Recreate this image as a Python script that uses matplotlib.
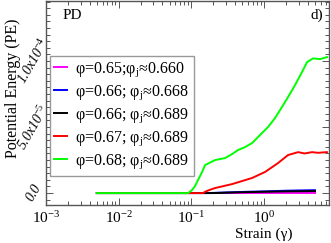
import numpy as np
import matplotlib
matplotlib.use("Agg")
import matplotlib.pyplot as plt
from matplotlib.ticker import LogLocator, MultipleLocator, NullFormatter

plt.rcParams['font.family'] = ['Liberation Serif', 'DejaVu Serif']
plt.rcParams['mathtext.fontset'] = 'custom'
plt.rcParams['mathtext.rm'] = 'Liberation Serif'
plt.rcParams['mathtext.it'] = 'Liberation Serif:italic'

# data (strain, potential energy)
g_mag = [0.005, 0.5, 5.0]
pe_mag = [0.0, 0.0, 0.0]

g_blue = [0.005, 0.17, 0.3, 0.6, 1.0, 2.0, 3.0, 5.0]
pe_blue = [0.0, 0.0, 0.05e-5, 0.1e-5, 0.13e-5, 0.18e-5, 0.2e-5, 0.22e-5]

g_black = [0.005, 0.2, 0.4, 1.0, 2.0, 5.0]
pe_black = [0.0, 0.0, 0.05e-5, 0.1e-5, 0.13e-5, 0.15e-5]

g_red = [0.005, 0.145, 0.154, 0.18, 0.211, 0.362, 0.68, 1.03, 1.55, 2.13, 2.93, 3.6, 4.56, 5.5, 7.3]
pe_red = [0.0, 0.0, 0.1e-5, 0.25e-5, 0.38e-5, 0.68e-5, 1.14e-5, 1.6e-5, 2.27e-5, 2.88e-5,
          3.1e-5, 3.0e-5, 3.1e-5, 3.05e-5, 3.1e-5]

g_green = [0.005, 0.09, 0.102, 0.112, 0.123, 0.140, 0.154, 0.211, 0.290, 0.362, 0.437, 0.546,
           0.683, 0.935, 1.13, 1.41, 1.76, 2.13, 2.66, 3.32, 3.89, 4.71, 5.87, 7.33]
pe_green = [0.0, 0.0, 0.23e-5, 0.53e-5, 0.98e-5, 1.59e-5, 2.12e-5, 2.5e-5, 2.65e-5, 2.95e-5,
            3.26e-5, 3.48e-5, 3.79e-5, 4.55e-5, 5.0e-5, 5.68e-5, 6.52e-5, 7.27e-5, 8.18e-5,
            9.17e-5, 9.92e-5, 10.2e-5, 10.15e-5, 10.3e-5]

labels = ["φ=0.65;φ$_\\mathrm{j}$≈0.660", "φ=0.66; φ$_\\mathrm{j}$≈0.668", "φ=0.66; φ$_\\mathrm{j}$≈0.689",
          "φ=0.67; φ$_\\mathrm{j}$≈0.689", "φ=0.68; φ$_\\mathrm{j}$≈0.689"]
colors = ["#ff00ff", "#0000ff", "#000000", "#ff0000", "#00ff00"]

fig = plt.figure(figsize=(3.31, 2.43), dpi=100)
ax = fig.add_axes([0.139, 0.156, 0.855, 0.84])

series = [(g_mag, pe_mag), (g_blue, pe_blue), (g_black, pe_black), (g_red, pe_red), (g_green, pe_green)]
for (g, pe), c, lab in zip(series, colors, labels):
    ax.plot(g, pe, color=c, lw=1.4, label=lab)

ax.set_xscale("log")
ax.set_xlim(1e-3, 7.8)
ax.set_ylim(-0.91e-5, 14.55e-5)

ax.xaxis.set_minor_locator(LogLocator(base=10, subs=np.arange(2, 10), numticks=20))
ax.xaxis.set_minor_formatter(NullFormatter())
ax.set_xticks([1e-3, 1e-2, 1e-1, 1e0])
ax.set_xticklabels(["10$^{-3}$", "10$^{-2}$", "10$^{-1}$", "10$^{0}$"], fontsize=11)

ax.set_yticks([0, 5e-5, 1e-4])
ax.set_yticklabels(["0.0", "5.0x10$^{-5}$", "1.0x10$^{-4}$"], rotation=60, fontsize=10,
                   fontstyle="italic", va="center", ha="center")
ax.yaxis.set_minor_locator(MultipleLocator(0.5e-5))
ax.tick_params(axis="y", pad=9)

ax.tick_params(which="both", direction="in", top=True, right=True, width=0.7, color="#555555")
ax.tick_params(which="major", length=5)
ax.tick_params(which="minor", length=3)
for s in ax.spines.values():
    s.set_linewidth(1.0)
    s.set_color("#555555")

ax.set_xlabel("Strain (γ)", fontsize=11)
ax.xaxis.set_label_coords(0.77, -0.11)
ax.set_ylabel("Potential Energy (PE)", fontsize=11.5)
ax.yaxis.set_label_coords(-0.09, 0.57)

ax.text(0.06, 0.93, "PD", transform=ax.transAxes, fontsize=11, va="center")
ax.text(0.935, 0.93, "d)", transform=ax.transAxes, fontsize=11, va="center")

leg = ax.legend(loc="upper left", bbox_to_anchor=(0.013, 0.73), fontsize=11.5, handlelength=0.8,
                handletextpad=0.5, labelspacing=0.27, borderpad=0.3, fancybox=False,
                framealpha=1, edgecolor="#999999", borderaxespad=0)
leg.get_frame().set_linewidth(1.0)

fig.savefig("out.png", dpi=100)
